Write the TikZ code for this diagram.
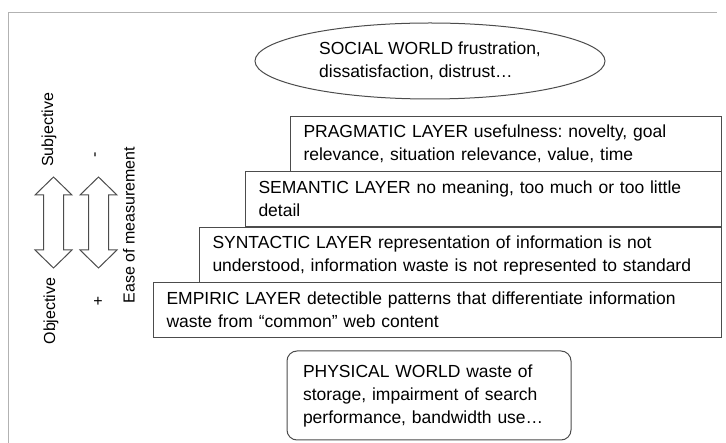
\documentclass[tikz,border=0pt]{standalone}
\usepackage{fontspec}
\setmainfont{Liberation Sans}
\frenchspacing
\usetikzlibrary{shapes.geometric}
\tikzset{
  layer/.style={draw=black!70, line width=1pt, anchor=north west, inner xsep=13pt, align=left,
    minimum height=55pt, font=\fontsize{17.5}{23}\selectfont},
  world/.style={draw=black!70, line width=1pt, align=left, inner sep=0pt, font=\fontsize{17.5}{23}\selectfont},
  side/.style={font=\fontsize{16}{19}\selectfont},
}

\begin{document}
\begin{tikzpicture}[x=1pt,y=-1pt]
  \useasboundingbox (0,0) rectangle (726,443);
  \draw[black!30, line width=1pt] (8,443) -- (8,13) -- (717,13);

  % worlds
  \node[world, ellipse, minimum width=350pt, minimum height=76pt] (social) at (430,61)
    {SOCIAL WORLD frustration,\\dissatisfaction, distrust\dots};
  \node[world, rounded corners=10pt, minimum width=284pt, minimum height=89pt,
    text width=252pt, inner xsep=16pt] (physical) at (429,395.5)
    {PHYSICAL WORLD waste of\\storage, impairment of search\\performance, bandwidth use\dots};

  % layers
  \node[layer, text width=405pt] (pragmatic) at (290,116)
    {PRAGMATIC LAYER usefulness: novelty, goal\\relevance, situation relevance, value, time};
  \node[layer, text width=450pt] (semantic) at (245,171)
    {SEMANTIC LAYER no meaning, too much or too little\\detail};
  \node[layer, text width=496pt] (syntactic) at (199,227)
    {SYNTACTIC LAYER representation of information is not\\understood, information waste is not represented to standard};
  \node[layer, text width=542pt] (empiric) at (153,282)
    {EMPIRIC LAYER detectible patterns that differentiate information\\waste from ``common'' web content};

  % scales
  \foreach \cx in {53.5,98.5}
    \draw[black!70, line width=1pt] (\cx,177) -- (\cx+18.5,195) -- (\cx+10,195) -- (\cx+10,250)
      -- (\cx+18.5,250) -- (\cx,268) -- (\cx-18.5,250) -- (\cx-10,250)
      -- (\cx-10,195) -- (\cx-18.5,195) -- cycle;
  \node[side, rotate=90] (subjective) at (49,130) {Subjective};
  \node[side, rotate=90] (objective) at (51,311) {Objective};
  \node[side, rotate=90] (minus) at (97,155) {-};
  \node[side] (plus) at (98,302) {+};
  \node[side, rotate=90] (ease) at (129,225) {Ease of measurement};
\end{tikzpicture}
\end{document}
